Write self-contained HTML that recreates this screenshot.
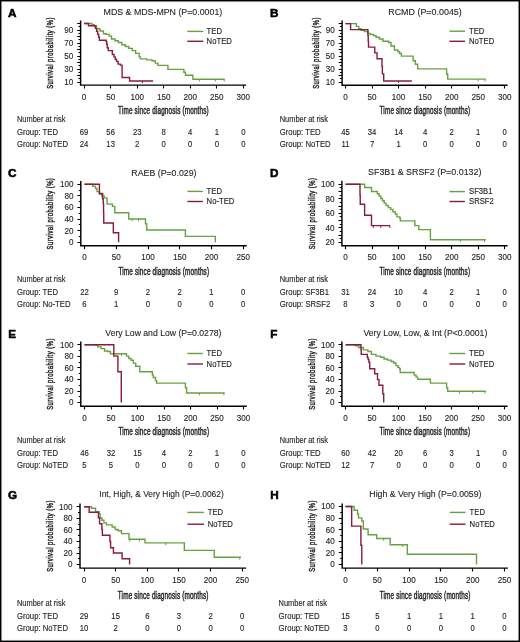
<!DOCTYPE html>
<html><head><meta charset="utf-8"><style>
html,body{margin:0;padding:0;background:#fff;}
body{width:520px;height:642px;overflow:hidden;}
svg{display:block;filter:blur(0.4px);}
svg text{font-family:"Liberation Sans", sans-serif;stroke:#262626;stroke-width:0.12px;}
</style></head><body>
<svg width="520" height="642" viewBox="0 0 520 642">
<rect x="0" y="0" width="520" height="642" fill="#fff"/>
<g>
<text x="8.1" y="16.7" font-size="11.7" font-weight="bold" fill="#000" style="stroke:#000;stroke-width:0.55px">A</text>
<text x="162.9" y="14.7" font-size="9.4" text-anchor="middle" textLength="118.7" lengthAdjust="spacingAndGlyphs" fill="#262626">MDS &amp; MDS-MPN (P=0.0001)</text>
<path d="M80.6 20.5 V85.1 H246.2" fill="none" stroke="#000" stroke-width="1.45"/>
<path d="M77.2 82.5H80.6 M78.4 78.5H80.6 M77.2 75.5H80.6 M78.4 72.5H80.6 M77.2 69.5H80.6 M78.4 65.5H80.6 M77.2 62.5H80.6 M78.4 59.5H80.6 M77.2 56.5H80.6 M78.4 52.5H80.6 M77.2 49.5H80.6 M78.4 46.5H80.6 M77.2 43.5H80.6 M78.4 39.5H80.6 M77.2 36.5H80.6 M78.4 33.5H80.6 M77.2 30.5H80.6 M78.4 26.5H80.6 M77.2 23.5H80.6 M84.5 85.1V88.5 M110.5 85.1V88.5 M137.5 85.1V88.5 M163.5 85.1V88.5 M190.5 85.1V88.5 M216.5 85.1V88.5 M243.5 85.1V88.5" fill="none" stroke="#000" stroke-width="1.1"/>
<text transform="translate(73.2 84.85) scale(1 1.13)" font-size="8.1" text-anchor="end" fill="#262626">10</text>
<text transform="translate(73.2 71.85) scale(1 1.13)" font-size="8.1" text-anchor="end" fill="#262626">30</text>
<text transform="translate(73.2 58.85) scale(1 1.13)" font-size="8.1" text-anchor="end" fill="#262626">50</text>
<text transform="translate(73.2 45.85) scale(1 1.13)" font-size="8.1" text-anchor="end" fill="#262626">70</text>
<text transform="translate(73.2 32.85) scale(1 1.13)" font-size="8.1" text-anchor="end" fill="#262626">90</text>
<text transform="translate(84.1 99.5) scale(1 1.13)" font-size="8.1" text-anchor="middle" fill="#262626">0</text>
<text transform="translate(110.63 99.5) scale(1 1.13)" font-size="8.1" text-anchor="middle" fill="#262626">50</text>
<text transform="translate(137.17 99.5) scale(1 1.13)" font-size="8.1" text-anchor="middle" fill="#262626">100</text>
<text transform="translate(163.7 99.5) scale(1 1.13)" font-size="8.1" text-anchor="middle" fill="#262626">150</text>
<text transform="translate(190.24 99.5) scale(1 1.13)" font-size="8.1" text-anchor="middle" fill="#262626">200</text>
<text transform="translate(216.77 99.5) scale(1 1.13)" font-size="8.1" text-anchor="middle" fill="#262626">250</text>
<text transform="translate(243.31 99.5) scale(1 1.13)" font-size="8.1" text-anchor="middle" fill="#262626">300</text>
<text transform="translate(163.48 114.2) scale(0.64 1)" font-size="10.0" text-anchor="middle" letter-spacing="0.24" fill="#262626" style="stroke-width:0.45px">Time since diagnosis (months)</text>
<text transform="translate(53.2 52.96) rotate(-90) scale(0.64 1)" font-size="9.2" text-anchor="middle" letter-spacing="0.75" fill="#262626" style="stroke-width:0.45px">Survival probability (%)</text>
<path d="M84.1 23.5 H91.9 V24.6 H94.18 V25.77 H96.52 V28.7 H100.02 V30.98 H103.47 V33.77 H106.28 V34.42 H109.2 V36.11 H111.48 V38.97 H114.99 V40.79 H118.38 V42.48 H121.89 V44.82 H125.39 V46.51 H128.78 V48.33 H132.29 V50.61 H135.68 V53.4 H139.19 V56.91 H140.35 V58.92 H146.72 V59.9 H152.03 V60.81 H155.21 V63.15 H157.87 V65.42 H167.95 V69.33 H183.87 V72.25 H185.46 V75.31 H192.89 V79.2 H224.74" fill="none" stroke="#66a242" stroke-width="1.4"/>
<path d="M84.1 23.5 H88.5 V25.77 H95.4 V28.38 H96.57 V31.3 H97.63 V34.35 H98.69 V37.15 H99.38 V40.2 H106.28 V41.7 H106.71 V44.3 H107.24 V47.68 H108.25 V50.61 H112.33 V54.57 H114.03 V56.91 H115.2 V59.25 H116.47 V61.39 H118.06 V64.12 H120.4 V65.1 H122.1 V77.45 H129.58 V81.03 H153.09" fill="none" stroke="#8a1a3e" stroke-width="1.4"/>
<path d="M199.58 79.2V81.5 M215.4 79.2V81.5 M224.2 79.2V81.5" stroke="#66a242" stroke-width="1"/>
<path d="M142.48 81.03V83.33" stroke="#8a1a3e" stroke-width="1"/>
<path d="M187.3 31.4H203.3" stroke="#66a242" stroke-width="1.4"/>
<path d="M187.3 41.3H203.3" stroke="#8a1a3e" stroke-width="1.4"/>
<text transform="translate(206.6 34.15) scale(1 1.17)" font-size="7.7" fill="#262626">TED</text>
<text transform="translate(206.6 44.05) scale(1 1.17)" font-size="7.7" fill="#262626">NoTED</text>
<text transform="translate(17 121.5) scale(1 1.15)" font-size="7.45" fill="#262626">Number at risk</text>
<text transform="translate(17 134.6) scale(1 1.11)" font-size="7.72" fill="#262626">Group: TED</text>
<text transform="translate(84.1 134.6) scale(1 1.13)" font-size="7.7" text-anchor="middle" fill="#262626">69</text>
<text transform="translate(110.63 134.6) scale(1 1.13)" font-size="7.7" text-anchor="middle" fill="#262626">56</text>
<text transform="translate(137.17 134.6) scale(1 1.13)" font-size="7.7" text-anchor="middle" fill="#262626">23</text>
<text transform="translate(163.7 134.6) scale(1 1.13)" font-size="7.7" text-anchor="middle" fill="#262626">8</text>
<text transform="translate(190.24 134.6) scale(1 1.13)" font-size="7.7" text-anchor="middle" fill="#262626">4</text>
<text transform="translate(216.77 134.6) scale(1 1.13)" font-size="7.7" text-anchor="middle" fill="#262626">1</text>
<text transform="translate(243.31 134.6) scale(1 1.13)" font-size="7.7" text-anchor="middle" fill="#262626">0</text>
<text transform="translate(17 146.9) scale(1 1.11)" font-size="7.72" fill="#262626">Group: NoTED</text>
<text transform="translate(84.1 146.9) scale(1 1.13)" font-size="7.7" text-anchor="middle" fill="#262626">24</text>
<text transform="translate(110.63 146.9) scale(1 1.13)" font-size="7.7" text-anchor="middle" fill="#262626">13</text>
<text transform="translate(137.17 146.9) scale(1 1.13)" font-size="7.7" text-anchor="middle" fill="#262626">2</text>
<text transform="translate(163.7 146.9) scale(1 1.13)" font-size="7.7" text-anchor="middle" fill="#262626">0</text>
<text transform="translate(190.24 146.9) scale(1 1.13)" font-size="7.7" text-anchor="middle" fill="#262626">0</text>
<text transform="translate(216.77 146.9) scale(1 1.13)" font-size="7.7" text-anchor="middle" fill="#262626">0</text>
<text transform="translate(243.31 146.9) scale(1 1.13)" font-size="7.7" text-anchor="middle" fill="#262626">0</text>
</g>
<g>
<text x="270.1" y="16.6" font-size="11.7" font-weight="bold" fill="#000" style="stroke:#000;stroke-width:0.55px">B</text>
<text x="425" y="14.8" font-size="9.4" text-anchor="middle" textLength="73.5" lengthAdjust="spacingAndGlyphs" fill="#262626">RCMD (P=0.0045)</text>
<path d="M342.1 20.5 V85.2 H507.6" fill="none" stroke="#000" stroke-width="1.45"/>
<path d="M338.7 82.5H342.1 M339.9 78.5H342.1 M338.7 75.5H342.1 M339.9 72.5H342.1 M338.7 69.5H342.1 M339.9 65.5H342.1 M338.7 62.5H342.1 M339.9 59.5H342.1 M338.7 56.5H342.1 M339.9 52.5H342.1 M338.7 49.5H342.1 M339.9 46.5H342.1 M338.7 43.5H342.1 M339.9 39.5H342.1 M338.7 36.5H342.1 M339.9 33.5H342.1 M338.7 30.5H342.1 M339.9 26.5H342.1 M338.7 23.5H342.1 M345.5 85.2V88.6 M372.5 85.2V88.6 M398.5 85.2V88.6 M425.5 85.2V88.6 M451.5 85.2V88.6 M478.5 85.2V88.6 M504.5 85.2V88.6" fill="none" stroke="#000" stroke-width="1.1"/>
<text transform="translate(334.7 84.95) scale(1 1.13)" font-size="8.1" text-anchor="end" fill="#262626">10</text>
<text transform="translate(334.7 71.95) scale(1 1.13)" font-size="8.1" text-anchor="end" fill="#262626">30</text>
<text transform="translate(334.7 58.95) scale(1 1.13)" font-size="8.1" text-anchor="end" fill="#262626">50</text>
<text transform="translate(334.7 45.95) scale(1 1.13)" font-size="8.1" text-anchor="end" fill="#262626">70</text>
<text transform="translate(334.7 32.95) scale(1 1.13)" font-size="8.1" text-anchor="end" fill="#262626">90</text>
<text transform="translate(345.5 99.5) scale(1 1.13)" font-size="8.1" text-anchor="middle" fill="#262626">0</text>
<text transform="translate(372.03 99.5) scale(1 1.13)" font-size="8.1" text-anchor="middle" fill="#262626">50</text>
<text transform="translate(398.57 99.5) scale(1 1.13)" font-size="8.1" text-anchor="middle" fill="#262626">100</text>
<text transform="translate(425.11 99.5) scale(1 1.13)" font-size="8.1" text-anchor="middle" fill="#262626">150</text>
<text transform="translate(451.64 99.5) scale(1 1.13)" font-size="8.1" text-anchor="middle" fill="#262626">200</text>
<text transform="translate(478.17 99.5) scale(1 1.13)" font-size="8.1" text-anchor="middle" fill="#262626">250</text>
<text transform="translate(504.71 99.5) scale(1 1.13)" font-size="8.1" text-anchor="middle" fill="#262626">300</text>
<text transform="translate(424.93 114.3) scale(0.64 1)" font-size="10.0" text-anchor="middle" letter-spacing="0.24" fill="#262626" style="stroke-width:0.45px">Time since diagnosis (months)</text>
<text transform="translate(319.1 53.01) rotate(-90) scale(0.64 1)" font-size="9.2" text-anchor="middle" letter-spacing="0.75" fill="#262626" style="stroke-width:0.45px">Survival probability (%)</text>
<path d="M345.5 23.6 H356.38 V26.33 H358.71 V28.73 H361 V30.42 H364.5 V31.53 H367.9 V33.35 H370.18 V34.45 H373.68 V35.62 H376.02 V37.31 H379.41 V39 H382.91 V41.28 H388.7 V42.45 H390.98 V46.02 H394.38 V49.99 H397.88 V51.68 H399.63 V53.5 H401.38 V56.1 H413.11 V60.78 H415.39 V64.22 H417.68 V68.91 H446.6 V73.97 H447.71 V79.11 H485.82" fill="none" stroke="#66a242" stroke-width="1.4"/>
<path d="M345.5 23.6 H350.59 V29.64 H367.9 V35.43 H368.21 V41.34 H368.53 V47.13 H374.79 V52.85 H377.08 V58.7 H381.96 V66.5 H382.38 V73.91 H383.71 V80.93 H411.84" fill="none" stroke="#8a1a3e" stroke-width="1.4"/>
<path d="M478.17 79.11V81.41 M485.07 79.11V81.41" stroke="#66a242" stroke-width="1"/>
<path d="M398.57 80.93V83.23" stroke="#8a1a3e" stroke-width="1"/>
<path d="M449.4 31.2H465" stroke="#66a242" stroke-width="1.4"/>
<path d="M449.4 41.3H465" stroke="#8a1a3e" stroke-width="1.4"/>
<text transform="translate(469 33.95) scale(1 1.17)" font-size="7.7" fill="#262626">TED</text>
<text transform="translate(469 44.05) scale(1 1.17)" font-size="7.7" fill="#262626">NoTED</text>
<text transform="translate(279.7 121.5) scale(1 1.15)" font-size="7.45" fill="#262626">Number at risk</text>
<text transform="translate(279.7 134.6) scale(1 1.11)" font-size="7.72" fill="#262626">Group: TED</text>
<text transform="translate(345.5 134.6) scale(1 1.13)" font-size="7.7" text-anchor="middle" fill="#262626">45</text>
<text transform="translate(372.03 134.6) scale(1 1.13)" font-size="7.7" text-anchor="middle" fill="#262626">34</text>
<text transform="translate(398.57 134.6) scale(1 1.13)" font-size="7.7" text-anchor="middle" fill="#262626">14</text>
<text transform="translate(425.11 134.6) scale(1 1.13)" font-size="7.7" text-anchor="middle" fill="#262626">4</text>
<text transform="translate(451.64 134.6) scale(1 1.13)" font-size="7.7" text-anchor="middle" fill="#262626">2</text>
<text transform="translate(478.17 134.6) scale(1 1.13)" font-size="7.7" text-anchor="middle" fill="#262626">1</text>
<text transform="translate(504.71 134.6) scale(1 1.13)" font-size="7.7" text-anchor="middle" fill="#262626">0</text>
<text transform="translate(279.7 146.9) scale(1 1.11)" font-size="7.72" fill="#262626">Group: NoTED</text>
<text transform="translate(345.5 146.9) scale(1 1.13)" font-size="7.7" text-anchor="middle" fill="#262626">11</text>
<text transform="translate(372.03 146.9) scale(1 1.13)" font-size="7.7" text-anchor="middle" fill="#262626">7</text>
<text transform="translate(398.57 146.9) scale(1 1.13)" font-size="7.7" text-anchor="middle" fill="#262626">1</text>
<text transform="translate(425.11 146.9) scale(1 1.13)" font-size="7.7" text-anchor="middle" fill="#262626">0</text>
<text transform="translate(451.64 146.9) scale(1 1.13)" font-size="7.7" text-anchor="middle" fill="#262626">0</text>
<text transform="translate(478.17 146.9) scale(1 1.13)" font-size="7.7" text-anchor="middle" fill="#262626">0</text>
<text transform="translate(504.71 146.9) scale(1 1.13)" font-size="7.7" text-anchor="middle" fill="#262626">0</text>
</g>
<g>
<text x="8" y="176.9" font-size="11.7" font-weight="bold" fill="#000" style="stroke:#000;stroke-width:0.55px">C</text>
<text x="163.95" y="175.5" font-size="9.4" text-anchor="middle" textLength="65.2" lengthAdjust="spacingAndGlyphs" fill="#262626">RAEB (P=0.029)</text>
<path d="M80.8 181 V245.8 H246.7" fill="none" stroke="#000" stroke-width="1.45"/>
<path d="M77.4 242.5H80.8 M78.8 236.5H80.8 M77.4 230.5H80.8 M78.8 224.5H80.8 M77.4 219.5H80.8 M78.8 213.5H80.8 M77.4 207.5H80.8 M78.8 201.5H80.8 M77.4 195.5H80.8 M78.8 190.5H80.8 M77.4 184.5H80.8 M84.5 245.8V249.2 M116.5 245.8V249.2 M148.5 245.8V249.2 M179.5 245.8V249.2 M211.5 245.8V249.2 M243.5 245.8V249.2" fill="none" stroke="#000" stroke-width="1.1"/>
<text transform="translate(73.4 245.15) scale(1 1.13)" font-size="8.1" text-anchor="end" fill="#262626">0</text>
<text transform="translate(73.4 233.55) scale(1 1.13)" font-size="8.1" text-anchor="end" fill="#262626">20</text>
<text transform="translate(73.4 221.95) scale(1 1.13)" font-size="8.1" text-anchor="end" fill="#262626">40</text>
<text transform="translate(73.4 210.35) scale(1 1.13)" font-size="8.1" text-anchor="end" fill="#262626">60</text>
<text transform="translate(73.4 198.75) scale(1 1.13)" font-size="8.1" text-anchor="end" fill="#262626">80</text>
<text transform="translate(73.4 187.15) scale(1 1.13)" font-size="8.1" text-anchor="end" fill="#262626">100</text>
<text transform="translate(84.5 260) scale(1 1.13)" font-size="8.1" text-anchor="middle" fill="#262626">0</text>
<text transform="translate(116.25 260) scale(1 1.13)" font-size="8.1" text-anchor="middle" fill="#262626">50</text>
<text transform="translate(148 260) scale(1 1.13)" font-size="8.1" text-anchor="middle" fill="#262626">100</text>
<text transform="translate(179.75 260) scale(1 1.13)" font-size="8.1" text-anchor="middle" fill="#262626">150</text>
<text transform="translate(211.5 260) scale(1 1.13)" font-size="8.1" text-anchor="middle" fill="#262626">200</text>
<text transform="translate(243.25 260) scale(1 1.13)" font-size="8.1" text-anchor="middle" fill="#262626">250</text>
<text transform="translate(163.83 274.6) scale(0.64 1)" font-size="10.0" text-anchor="middle" letter-spacing="0.24" fill="#262626" style="stroke-width:0.45px">Time since diagnosis (months)</text>
<text transform="translate(53.2 213.56) rotate(-90) scale(0.64 1)" font-size="9.2" text-anchor="middle" letter-spacing="0.75" fill="#262626" style="stroke-width:0.45px">Survival probability (%)</text>
<path d="M84.5 184.3 H92.69 V186.33 H95.49 V188.36 H97.01 V191.61 H99.42 V193.99 H101.64 V195.9 H104.19 V197.87 H107.11 V204.08 H112.44 V206.34 H114.79 V212.78 H128.7 V218.98 H145.46 V223.74 H146.73 V230 H185.4 V236.33 H215.31 V242.13 H215.31" fill="none" stroke="#66a242" stroke-width="1.4"/>
<path d="M84.5 184.3 H99.42 V193.52 H102.6 V198.8 H103.23 V203.61 H103.55 V213.3 H103.74 V222.93 H113.33 V232.79 H118.6 V242.13 H118.6" fill="none" stroke="#8a1a3e" stroke-width="1.4"/>
<path d="M132.12 218.98V221.28 M138.47 218.98V221.28" stroke="#66a242" stroke-width="1"/>
<path d="M187.4 191.4H202.9" stroke="#66a242" stroke-width="1.4"/>
<path d="M187.4 201.5H202.9" stroke="#8a1a3e" stroke-width="1.4"/>
<text transform="translate(206.6 194.15) scale(1 1.17)" font-size="7.7" fill="#262626">TED</text>
<text transform="translate(206.6 204.25) scale(1 1.17)" font-size="7.7" fill="#262626">No-TED</text>
<text transform="translate(17 281.9) scale(1 1.15)" font-size="7.45" fill="#262626">Number at risk</text>
<text transform="translate(17 294.6) scale(1 1.11)" font-size="7.72" fill="#262626">Group: TED</text>
<text transform="translate(84.5 294.6) scale(1 1.13)" font-size="7.7" text-anchor="middle" fill="#262626">22</text>
<text transform="translate(116.25 294.6) scale(1 1.13)" font-size="7.7" text-anchor="middle" fill="#262626">9</text>
<text transform="translate(148 294.6) scale(1 1.13)" font-size="7.7" text-anchor="middle" fill="#262626">2</text>
<text transform="translate(179.75 294.6) scale(1 1.13)" font-size="7.7" text-anchor="middle" fill="#262626">2</text>
<text transform="translate(211.5 294.6) scale(1 1.13)" font-size="7.7" text-anchor="middle" fill="#262626">1</text>
<text transform="translate(243.25 294.6) scale(1 1.13)" font-size="7.7" text-anchor="middle" fill="#262626">0</text>
<text transform="translate(17 306.9) scale(1 1.11)" font-size="7.72" fill="#262626">Group: No-TED</text>
<text transform="translate(84.5 306.9) scale(1 1.13)" font-size="7.7" text-anchor="middle" fill="#262626">6</text>
<text transform="translate(116.25 306.9) scale(1 1.13)" font-size="7.7" text-anchor="middle" fill="#262626">1</text>
<text transform="translate(148 306.9) scale(1 1.13)" font-size="7.7" text-anchor="middle" fill="#262626">0</text>
<text transform="translate(179.75 306.9) scale(1 1.13)" font-size="7.7" text-anchor="middle" fill="#262626">0</text>
<text transform="translate(211.5 306.9) scale(1 1.13)" font-size="7.7" text-anchor="middle" fill="#262626">0</text>
<text transform="translate(243.25 306.9) scale(1 1.13)" font-size="7.7" text-anchor="middle" fill="#262626">0</text>
</g>
<g>
<text x="270.1" y="176.9" font-size="11.7" font-weight="bold" fill="#000" style="stroke:#000;stroke-width:0.55px">D</text>
<text x="424.75" y="175.2" font-size="9.4" text-anchor="middle" textLength="113.4" lengthAdjust="spacingAndGlyphs" fill="#262626">SF3B1 &amp; SRSF2 (P=0.0132)</text>
<path d="M341.9 180.8 V245.8 H507.5" fill="none" stroke="#000" stroke-width="1.45"/>
<path d="M338.5 242.5H341.9 M339.7 238.5H341.9 M338.5 235.5H341.9 M339.7 231.5H341.9 M338.5 227.5H341.9 M339.7 224.5H341.9 M338.5 220.5H341.9 M339.7 216.5H341.9 M338.5 213.5H341.9 M339.7 209.5H341.9 M338.5 206.5H341.9 M339.7 202.5H341.9 M338.5 198.5H341.9 M339.7 195.5H341.9 M338.5 191.5H341.9 M339.7 187.5H341.9 M338.5 184.5H341.9 M345.5 245.8V249.2 M372.5 245.8V249.2 M398.5 245.8V249.2 M425.5 245.8V249.2 M451.5 245.8V249.2 M478.5 245.8V249.2 M504.5 245.8V249.2" fill="none" stroke="#000" stroke-width="1.1"/>
<text transform="translate(334.5 245.15) scale(1 1.13)" font-size="8.1" text-anchor="end" fill="#262626">20</text>
<text transform="translate(334.5 230.63) scale(1 1.13)" font-size="8.1" text-anchor="end" fill="#262626">40</text>
<text transform="translate(334.5 216.11) scale(1 1.13)" font-size="8.1" text-anchor="end" fill="#262626">60</text>
<text transform="translate(334.5 201.59) scale(1 1.13)" font-size="8.1" text-anchor="end" fill="#262626">80</text>
<text transform="translate(334.5 187.07) scale(1 1.13)" font-size="8.1" text-anchor="end" fill="#262626">100</text>
<text transform="translate(345.5 260) scale(1 1.13)" font-size="8.1" text-anchor="middle" fill="#262626">0</text>
<text transform="translate(372.03 260) scale(1 1.13)" font-size="8.1" text-anchor="middle" fill="#262626">50</text>
<text transform="translate(398.57 260) scale(1 1.13)" font-size="8.1" text-anchor="middle" fill="#262626">100</text>
<text transform="translate(425.11 260) scale(1 1.13)" font-size="8.1" text-anchor="middle" fill="#262626">150</text>
<text transform="translate(451.64 260) scale(1 1.13)" font-size="8.1" text-anchor="middle" fill="#262626">200</text>
<text transform="translate(478.17 260) scale(1 1.13)" font-size="8.1" text-anchor="middle" fill="#262626">250</text>
<text transform="translate(504.71 260) scale(1 1.13)" font-size="8.1" text-anchor="middle" fill="#262626">300</text>
<text transform="translate(424.78 274.7) scale(0.64 1)" font-size="10.0" text-anchor="middle" letter-spacing="0.24" fill="#262626" style="stroke-width:0.45px">Time since diagnosis (months)</text>
<text transform="translate(315.1 213.46) rotate(-90) scale(0.64 1)" font-size="9.2" text-anchor="middle" letter-spacing="0.75" fill="#262626" style="stroke-width:0.45px">Survival probability (%)</text>
<path d="M345.5 184.22 H364.61 V187.49 H371.5 V191.48 H377.29 V193.8 H378.99 V196.13 H380.79 V198.52 H382.49 V200.77 H384.19 V203.1 H385.99 V205.42 H388.27 V207.67 H390.61 V209.41 H392.89 V211.74 H395.17 V213.99 H396.92 V216.89 H399.79 V218.12 H400.37 V220.88 H414.81 V225.6 H418.79 V229.59 H430.41 V239.69 H485.82" fill="none" stroke="#66a242" stroke-width="1.4"/>
<path d="M345.5 184.22 H359.99 V194.96 H360.25 V204.19 H364.61 V215.22 H371.5 V225.6 H390.08" fill="none" stroke="#8a1a3e" stroke-width="1.4"/>
<path d="M460.4 239.69V241.99 M484.54 239.69V241.99" stroke="#66a242" stroke-width="1"/>
<path d="M373.31 225.6V227.9 M380.79 225.6V227.9 M389.81 225.6V227.9" stroke="#8a1a3e" stroke-width="1"/>
<path d="M449.4 191.6H464.9" stroke="#66a242" stroke-width="1.4"/>
<path d="M449.4 201.5H464.9" stroke="#8a1a3e" stroke-width="1.4"/>
<text transform="translate(469 194.35) scale(1 1.17)" font-size="7.7" fill="#262626">SF3B1</text>
<text transform="translate(469 204.25) scale(1 1.17)" font-size="7.7" fill="#262626">SRSF2</text>
<text transform="translate(279.7 281.9) scale(1 1.15)" font-size="7.45" fill="#262626">Number at risk</text>
<text transform="translate(279.7 294.6) scale(1 1.11)" font-size="7.72" fill="#262626">Group: SF3B1</text>
<text transform="translate(345.5 294.6) scale(1 1.13)" font-size="7.7" text-anchor="middle" fill="#262626">31</text>
<text transform="translate(372.03 294.6) scale(1 1.13)" font-size="7.7" text-anchor="middle" fill="#262626">24</text>
<text transform="translate(398.57 294.6) scale(1 1.13)" font-size="7.7" text-anchor="middle" fill="#262626">10</text>
<text transform="translate(425.11 294.6) scale(1 1.13)" font-size="7.7" text-anchor="middle" fill="#262626">4</text>
<text transform="translate(451.64 294.6) scale(1 1.13)" font-size="7.7" text-anchor="middle" fill="#262626">2</text>
<text transform="translate(478.17 294.6) scale(1 1.13)" font-size="7.7" text-anchor="middle" fill="#262626">1</text>
<text transform="translate(504.71 294.6) scale(1 1.13)" font-size="7.7" text-anchor="middle" fill="#262626">0</text>
<text transform="translate(279.7 306.9) scale(1 1.11)" font-size="7.72" fill="#262626">Group: SRSF2</text>
<text transform="translate(345.5 306.9) scale(1 1.13)" font-size="7.7" text-anchor="middle" fill="#262626">8</text>
<text transform="translate(372.03 306.9) scale(1 1.13)" font-size="7.7" text-anchor="middle" fill="#262626">3</text>
<text transform="translate(398.57 306.9) scale(1 1.13)" font-size="7.7" text-anchor="middle" fill="#262626">0</text>
<text transform="translate(425.11 306.9) scale(1 1.13)" font-size="7.7" text-anchor="middle" fill="#262626">0</text>
<text transform="translate(451.64 306.9) scale(1 1.13)" font-size="7.7" text-anchor="middle" fill="#262626">0</text>
<text transform="translate(478.17 306.9) scale(1 1.13)" font-size="7.7" text-anchor="middle" fill="#262626">0</text>
<text transform="translate(504.71 306.9) scale(1 1.13)" font-size="7.7" text-anchor="middle" fill="#262626">0</text>
</g>
<g>
<text x="8.3" y="337.5" font-size="11.7" font-weight="bold" fill="#000" style="stroke:#000;stroke-width:0.55px">E</text>
<text x="163.4" y="335.9" font-size="9.4" text-anchor="middle" textLength="116.1" lengthAdjust="spacingAndGlyphs" fill="#262626">Very Low and Low (P=0.0278)</text>
<path d="M80.8 341.5 V406.2 H246.7" fill="none" stroke="#000" stroke-width="1.45"/>
<path d="M77.4 402.5H80.8 M78.8 396.5H80.8 M77.4 391.5H80.8 M78.8 385.5H80.8 M77.4 379.5H80.8 M78.8 373.5H80.8 M77.4 367.5H80.8 M78.8 362.5H80.8 M77.4 356.5H80.8 M78.8 350.5H80.8 M77.4 344.5H80.8 M84.5 406.2V409.6 M111.5 406.2V409.6 M137.5 406.2V409.6 M164.5 406.2V409.6 M190.5 406.2V409.6 M217.5 406.2V409.6 M243.5 406.2V409.6" fill="none" stroke="#000" stroke-width="1.1"/>
<text transform="translate(73.4 405.45) scale(1 1.13)" font-size="8.1" text-anchor="end" fill="#262626">0</text>
<text transform="translate(73.4 393.89) scale(1 1.13)" font-size="8.1" text-anchor="end" fill="#262626">20</text>
<text transform="translate(73.4 382.33) scale(1 1.13)" font-size="8.1" text-anchor="end" fill="#262626">40</text>
<text transform="translate(73.4 370.77) scale(1 1.13)" font-size="8.1" text-anchor="end" fill="#262626">60</text>
<text transform="translate(73.4 359.21) scale(1 1.13)" font-size="8.1" text-anchor="end" fill="#262626">80</text>
<text transform="translate(73.4 347.65) scale(1 1.13)" font-size="8.1" text-anchor="end" fill="#262626">100</text>
<text transform="translate(84.5 420.5) scale(1 1.13)" font-size="8.1" text-anchor="middle" fill="#262626">0</text>
<text transform="translate(111 420.5) scale(1 1.13)" font-size="8.1" text-anchor="middle" fill="#262626">50</text>
<text transform="translate(137.5 420.5) scale(1 1.13)" font-size="8.1" text-anchor="middle" fill="#262626">100</text>
<text transform="translate(164 420.5) scale(1 1.13)" font-size="8.1" text-anchor="middle" fill="#262626">150</text>
<text transform="translate(190.5 420.5) scale(1 1.13)" font-size="8.1" text-anchor="middle" fill="#262626">200</text>
<text transform="translate(217 420.5) scale(1 1.13)" font-size="8.1" text-anchor="middle" fill="#262626">250</text>
<text transform="translate(243.5 420.5) scale(1 1.13)" font-size="8.1" text-anchor="middle" fill="#262626">300</text>
<text transform="translate(163.83 435.4) scale(0.64 1)" font-size="10.0" text-anchor="middle" letter-spacing="0.24" fill="#262626" style="stroke-width:0.45px">Time since diagnosis (months)</text>
<text transform="translate(53 374.01) rotate(-90) scale(0.64 1)" font-size="9.2" text-anchor="middle" letter-spacing="0.75" fill="#262626" style="stroke-width:0.45px">Survival probability (%)</text>
<path d="M84.5 344.8 H95.42 V345.2 H97.7 V346.88 H101.09 V348.67 H104.59 V350.98 H108.09 V351.5 H110.42 V353.82 H126.48 V356.13 H128.81 V358.5 H131.09 V360.23 H133.42 V363.12 H135.7 V366.19 H139.78 V371.68 H152.34 V374.86 H153.29 V377.51 H155.52 V380.64 H156.58 V383.12 H185.41 V387.69 H186.58 V393.01 H224.69" fill="none" stroke="#66a242" stroke-width="1.4"/>
<path d="M84.5 344.8 H113.81 V356.13 H117.89 V371.68 H121.28 V402.43 H121.28" fill="none" stroke="#8a1a3e" stroke-width="1.4"/>
<path d="M116.3 353.82V356.12 M121.6 353.82V356.12 M199.51 393.01V395.31 M223.89 393.01V395.31" stroke="#66a242" stroke-width="1"/>
<path d="M187.4 353.5H202.9" stroke="#66a242" stroke-width="1.4"/>
<path d="M187.4 364H202.9" stroke="#8a1a3e" stroke-width="1.4"/>
<text transform="translate(206.6 356.25) scale(1 1.17)" font-size="7.7" fill="#262626">TED</text>
<text transform="translate(206.6 366.75) scale(1 1.17)" font-size="7.7" fill="#262626">NoTED</text>
<text transform="translate(17 443.3) scale(1 1.15)" font-size="7.45" fill="#262626">Number at risk</text>
<text transform="translate(17 455.6) scale(1 1.11)" font-size="7.72" fill="#262626">Group: TED</text>
<text transform="translate(84.5 455.6) scale(1 1.13)" font-size="7.7" text-anchor="middle" fill="#262626">46</text>
<text transform="translate(111 455.6) scale(1 1.13)" font-size="7.7" text-anchor="middle" fill="#262626">32</text>
<text transform="translate(137.5 455.6) scale(1 1.13)" font-size="7.7" text-anchor="middle" fill="#262626">15</text>
<text transform="translate(164 455.6) scale(1 1.13)" font-size="7.7" text-anchor="middle" fill="#262626">4</text>
<text transform="translate(190.5 455.6) scale(1 1.13)" font-size="7.7" text-anchor="middle" fill="#262626">2</text>
<text transform="translate(217 455.6) scale(1 1.13)" font-size="7.7" text-anchor="middle" fill="#262626">1</text>
<text transform="translate(243.5 455.6) scale(1 1.13)" font-size="7.7" text-anchor="middle" fill="#262626">0</text>
<text transform="translate(17 468.1) scale(1 1.11)" font-size="7.72" fill="#262626">Group: NoTED</text>
<text transform="translate(84.5 468.1) scale(1 1.13)" font-size="7.7" text-anchor="middle" fill="#262626">5</text>
<text transform="translate(111 468.1) scale(1 1.13)" font-size="7.7" text-anchor="middle" fill="#262626">5</text>
<text transform="translate(137.5 468.1) scale(1 1.13)" font-size="7.7" text-anchor="middle" fill="#262626">0</text>
<text transform="translate(164 468.1) scale(1 1.13)" font-size="7.7" text-anchor="middle" fill="#262626">0</text>
<text transform="translate(190.5 468.1) scale(1 1.13)" font-size="7.7" text-anchor="middle" fill="#262626">0</text>
<text transform="translate(217 468.1) scale(1 1.13)" font-size="7.7" text-anchor="middle" fill="#262626">0</text>
<text transform="translate(243.5 468.1) scale(1 1.13)" font-size="7.7" text-anchor="middle" fill="#262626">0</text>
</g>
<g>
<text x="270.3" y="337.5" font-size="11.7" font-weight="bold" fill="#000" style="stroke:#000;stroke-width:0.55px">F</text>
<text x="425.4" y="335.9" font-size="9.4" text-anchor="middle" textLength="123.9" lengthAdjust="spacingAndGlyphs" fill="#262626">Very Low, Low, &amp; Int (P&lt;0.0001)</text>
<path d="M341.9 341.5 V406.2 H507.6" fill="none" stroke="#000" stroke-width="1.45"/>
<path d="M338.5 402.5H341.9 M339.9 396.5H341.9 M338.5 391.5H341.9 M339.9 385.5H341.9 M338.5 379.5H341.9 M339.9 373.5H341.9 M338.5 367.5H341.9 M339.9 362.5H341.9 M338.5 356.5H341.9 M339.9 350.5H341.9 M338.5 344.5H341.9 M345.5 406.2V409.6 M372.5 406.2V409.6 M398.5 406.2V409.6 M425.5 406.2V409.6 M451.5 406.2V409.6 M478.5 406.2V409.6 M504.5 406.2V409.6" fill="none" stroke="#000" stroke-width="1.1"/>
<text transform="translate(334.5 405.45) scale(1 1.13)" font-size="8.1" text-anchor="end" fill="#262626">0</text>
<text transform="translate(334.5 393.89) scale(1 1.13)" font-size="8.1" text-anchor="end" fill="#262626">20</text>
<text transform="translate(334.5 382.33) scale(1 1.13)" font-size="8.1" text-anchor="end" fill="#262626">40</text>
<text transform="translate(334.5 370.77) scale(1 1.13)" font-size="8.1" text-anchor="end" fill="#262626">60</text>
<text transform="translate(334.5 359.21) scale(1 1.13)" font-size="8.1" text-anchor="end" fill="#262626">80</text>
<text transform="translate(334.5 347.65) scale(1 1.13)" font-size="8.1" text-anchor="end" fill="#262626">100</text>
<text transform="translate(345.6 420.5) scale(1 1.13)" font-size="8.1" text-anchor="middle" fill="#262626">0</text>
<text transform="translate(372.1 420.5) scale(1 1.13)" font-size="8.1" text-anchor="middle" fill="#262626">50</text>
<text transform="translate(398.6 420.5) scale(1 1.13)" font-size="8.1" text-anchor="middle" fill="#262626">100</text>
<text transform="translate(425.1 420.5) scale(1 1.13)" font-size="8.1" text-anchor="middle" fill="#262626">150</text>
<text transform="translate(451.6 420.5) scale(1 1.13)" font-size="8.1" text-anchor="middle" fill="#262626">200</text>
<text transform="translate(478.1 420.5) scale(1 1.13)" font-size="8.1" text-anchor="middle" fill="#262626">250</text>
<text transform="translate(504.6 420.5) scale(1 1.13)" font-size="8.1" text-anchor="middle" fill="#262626">300</text>
<text transform="translate(424.83 435.4) scale(0.64 1)" font-size="10.0" text-anchor="middle" letter-spacing="0.24" fill="#262626" style="stroke-width:0.45px">Time since diagnosis (months)</text>
<text transform="translate(314.8 374.01) rotate(-90) scale(0.64 1)" font-size="9.2" text-anchor="middle" letter-spacing="0.75" fill="#262626" style="stroke-width:0.45px">Survival probability (%)</text>
<path d="M345.6 344.8 H355.19 V345.78 H358.69 V347.52 H363.3 V349.83 H367.91 V351.5 H371.41 V354.39 H376.02 V356.13 H380.58 V357.28 H384.08 V359.02 H387.47 V360.12 H391.02 V361.56 H393.72 V363.01 H395.95 V365.61 H397.91 V367.34 H399.5 V368.79 H400.19 V372.54 H414.18 V375.15 H416.09 V377.17 H417.68 V379.31 H430.4 V383.12 H446.62 V387.69 H447.68 V391.21 H485.79" fill="none" stroke="#66a242" stroke-width="1.4"/>
<path d="M345.6 344.8 H360.97 V349.6 H361.24 V354.39 H367.33 V357.52 H368.12 V359.6 H368.92 V362.2 H369.72 V368.73 H374.7 V373.7 H377.51 V379.6 H378.99 V385.2 H382.81 V393.7 H383.71 V402.43 H383.71" fill="none" stroke="#8a1a3e" stroke-width="1.4"/>
<path d="M459.55 391.21V393.51 M472.8 391.21V393.51 M484.99 391.21V393.51" stroke="#66a242" stroke-width="1"/>
<path d="M449.4 353.5H465.3" stroke="#66a242" stroke-width="1.4"/>
<path d="M449.4 364H465.3" stroke="#8a1a3e" stroke-width="1.4"/>
<text transform="translate(469 356.25) scale(1 1.17)" font-size="7.7" fill="#262626">TED</text>
<text transform="translate(469 366.75) scale(1 1.17)" font-size="7.7" fill="#262626">NoTED</text>
<text transform="translate(279.7 443.3) scale(1 1.15)" font-size="7.45" fill="#262626">Number at risk</text>
<text transform="translate(279.7 455.6) scale(1 1.11)" font-size="7.72" fill="#262626">Group: TED</text>
<text transform="translate(345.6 455.6) scale(1 1.13)" font-size="7.7" text-anchor="middle" fill="#262626">60</text>
<text transform="translate(372.1 455.6) scale(1 1.13)" font-size="7.7" text-anchor="middle" fill="#262626">42</text>
<text transform="translate(398.6 455.6) scale(1 1.13)" font-size="7.7" text-anchor="middle" fill="#262626">20</text>
<text transform="translate(425.1 455.6) scale(1 1.13)" font-size="7.7" text-anchor="middle" fill="#262626">6</text>
<text transform="translate(451.6 455.6) scale(1 1.13)" font-size="7.7" text-anchor="middle" fill="#262626">3</text>
<text transform="translate(478.1 455.6) scale(1 1.13)" font-size="7.7" text-anchor="middle" fill="#262626">1</text>
<text transform="translate(504.6 455.6) scale(1 1.13)" font-size="7.7" text-anchor="middle" fill="#262626">0</text>
<text transform="translate(279.7 468.1) scale(1 1.11)" font-size="7.72" fill="#262626">Group: NoTED</text>
<text transform="translate(345.6 468.1) scale(1 1.13)" font-size="7.7" text-anchor="middle" fill="#262626">12</text>
<text transform="translate(372.1 468.1) scale(1 1.13)" font-size="7.7" text-anchor="middle" fill="#262626">7</text>
<text transform="translate(398.6 468.1) scale(1 1.13)" font-size="7.7" text-anchor="middle" fill="#262626">0</text>
<text transform="translate(425.1 468.1) scale(1 1.13)" font-size="7.7" text-anchor="middle" fill="#262626">0</text>
<text transform="translate(451.6 468.1) scale(1 1.13)" font-size="7.7" text-anchor="middle" fill="#262626">0</text>
<text transform="translate(478.1 468.1) scale(1 1.13)" font-size="7.7" text-anchor="middle" fill="#262626">0</text>
<text transform="translate(504.6 468.1) scale(1 1.13)" font-size="7.7" text-anchor="middle" fill="#262626">0</text>
</g>
<g>
<text x="8" y="498.5" font-size="11.7" font-weight="bold" fill="#000" style="stroke:#000;stroke-width:0.55px">G</text>
<text x="161.55" y="496.8" font-size="9.4" text-anchor="middle" textLength="124.4" lengthAdjust="spacingAndGlyphs" fill="#262626">Int, High, &amp; Very High (P=0.0062)</text>
<path d="M80 503.5 V568.1 H246.2" fill="none" stroke="#000" stroke-width="1.45"/>
<path d="M76.6 564.5H80 M78 558.5H80 M76.6 553.5H80 M78 547.5H80 M76.6 541.5H80 M78 535.5H80 M76.6 529.5H80 M78 524.5H80 M76.6 518.5H80 M78 512.5H80 M76.6 506.5H80 M84.5 568.1V571.5 M115.5 568.1V571.5 M147.5 568.1V571.5 M178.5 568.1V571.5 M210.5 568.1V571.5 M242.5 568.1V571.5" fill="none" stroke="#000" stroke-width="1.1"/>
<text transform="translate(72.6 567.45) scale(1 1.13)" font-size="8.1" text-anchor="end" fill="#262626">0</text>
<text transform="translate(72.6 555.87) scale(1 1.13)" font-size="8.1" text-anchor="end" fill="#262626">20</text>
<text transform="translate(72.6 544.29) scale(1 1.13)" font-size="8.1" text-anchor="end" fill="#262626">40</text>
<text transform="translate(72.6 532.71) scale(1 1.13)" font-size="8.1" text-anchor="end" fill="#262626">60</text>
<text transform="translate(72.6 521.13) scale(1 1.13)" font-size="8.1" text-anchor="end" fill="#262626">80</text>
<text transform="translate(72.6 509.55) scale(1 1.13)" font-size="8.1" text-anchor="end" fill="#262626">100</text>
<text transform="translate(84 582.9) scale(1 1.13)" font-size="8.1" text-anchor="middle" fill="#262626">0</text>
<text transform="translate(115.65 582.9) scale(1 1.13)" font-size="8.1" text-anchor="middle" fill="#262626">50</text>
<text transform="translate(147.3 582.9) scale(1 1.13)" font-size="8.1" text-anchor="middle" fill="#262626">100</text>
<text transform="translate(178.95 582.9) scale(1 1.13)" font-size="8.1" text-anchor="middle" fill="#262626">150</text>
<text transform="translate(210.6 582.9) scale(1 1.13)" font-size="8.1" text-anchor="middle" fill="#262626">200</text>
<text transform="translate(242.25 582.9) scale(1 1.13)" font-size="8.1" text-anchor="middle" fill="#262626">250</text>
<text transform="translate(163.18 598.7) scale(0.64 1)" font-size="10.0" text-anchor="middle" letter-spacing="0.24" fill="#262626" style="stroke-width:0.45px">Time since diagnosis (months)</text>
<text transform="translate(53.2 535.96) rotate(-90) scale(0.64 1)" font-size="9.2" text-anchor="middle" letter-spacing="0.75" fill="#262626" style="stroke-width:0.45px">Survival probability (%)</text>
<path d="M84 506.7 H91.47 V508.21 H95.52 V511.68 H99 V513.65 H100.14 V517.99 H101.91 V520.31 H103.94 V522.91 H106.47 V524.88 H112.17 V526.97 H115.14 V529.51 H118.06 V530.73 H121.47 V533.62 H129.01 V539.3 H145.02 V542.83 H184.33 V550.41 H214.27 V557.3 H240.98" fill="none" stroke="#66a242" stroke-width="1.4"/>
<path d="M84 506.7 H89.19 V512.2 H98.43 V517.7 H99.57 V523.78 H101.91 V529.57 H102.36 V535.3 H109.95 V541.44 H110.59 V547.81 H113.43 V553.02 H122.11 V558.81 H129.58 V564.43 H129.58" fill="none" stroke="#8a1a3e" stroke-width="1.4"/>
<path d="M129.83 539.3V541.6 M139.39 539.3V541.6 M165.66 542.83V545.13 M239.72 557.3V559.6" stroke="#66a242" stroke-width="1"/>
<path d="M187.4 512.4H204" stroke="#66a242" stroke-width="1.4"/>
<path d="M187.4 524.2H204" stroke="#8a1a3e" stroke-width="1.4"/>
<text transform="translate(207.7 515.15) scale(1 1.17)" font-size="7.7" fill="#262626">TED</text>
<text transform="translate(207.7 526.95) scale(1 1.17)" font-size="7.7" fill="#262626">NoTED</text>
<text transform="translate(17 606.3) scale(1 1.15)" font-size="7.45" fill="#262626">Number at risk</text>
<text transform="translate(17 618.6) scale(1 1.11)" font-size="7.72" fill="#262626">Group: TED</text>
<text transform="translate(84 618.6) scale(1 1.13)" font-size="7.7" text-anchor="middle" fill="#262626">29</text>
<text transform="translate(115.65 618.6) scale(1 1.13)" font-size="7.7" text-anchor="middle" fill="#262626">15</text>
<text transform="translate(147.3 618.6) scale(1 1.13)" font-size="7.7" text-anchor="middle" fill="#262626">6</text>
<text transform="translate(178.95 618.6) scale(1 1.13)" font-size="7.7" text-anchor="middle" fill="#262626">3</text>
<text transform="translate(210.6 618.6) scale(1 1.13)" font-size="7.7" text-anchor="middle" fill="#262626">2</text>
<text transform="translate(242.25 618.6) scale(1 1.13)" font-size="7.7" text-anchor="middle" fill="#262626">0</text>
<text transform="translate(17 631.1) scale(1 1.11)" font-size="7.72" fill="#262626">Group: NoTED</text>
<text transform="translate(84 631.1) scale(1 1.13)" font-size="7.7" text-anchor="middle" fill="#262626">10</text>
<text transform="translate(115.65 631.1) scale(1 1.13)" font-size="7.7" text-anchor="middle" fill="#262626">2</text>
<text transform="translate(147.3 631.1) scale(1 1.13)" font-size="7.7" text-anchor="middle" fill="#262626">0</text>
<text transform="translate(178.95 631.1) scale(1 1.13)" font-size="7.7" text-anchor="middle" fill="#262626">0</text>
<text transform="translate(210.6 631.1) scale(1 1.13)" font-size="7.7" text-anchor="middle" fill="#262626">0</text>
<text transform="translate(242.25 631.1) scale(1 1.13)" font-size="7.7" text-anchor="middle" fill="#262626">0</text>
</g>
<g>
<text x="270.3" y="498.5" font-size="11.7" font-weight="bold" fill="#000" style="stroke:#000;stroke-width:0.55px">H</text>
<text x="425.4" y="496.7" font-size="9.4" text-anchor="middle" textLength="112.1" lengthAdjust="spacingAndGlyphs" fill="#262626">High &amp; Very High (P=0.0059)</text>
<path d="M342.2 503.5 V568.1 H507.9" fill="none" stroke="#000" stroke-width="1.45"/>
<path d="M338.8 564.5H342.2 M340.2 558.5H342.2 M338.8 552.5H342.2 M340.2 547.5H342.2 M338.8 541.5H342.2 M340.2 535.5H342.2 M338.8 529.5H342.2 M340.2 523.5H342.2 M338.8 518.5H342.2 M340.2 512.5H342.2 M338.8 506.5H342.2 M345.5 568.1V571.5 M377.5 568.1V571.5 M409.5 568.1V571.5 M440.5 568.1V571.5 M472.5 568.1V571.5 M504.5 568.1V571.5" fill="none" stroke="#000" stroke-width="1.1"/>
<text transform="translate(334.8 567.45) scale(1 1.13)" font-size="8.1" text-anchor="end" fill="#262626">0</text>
<text transform="translate(334.8 555.83) scale(1 1.13)" font-size="8.1" text-anchor="end" fill="#262626">20</text>
<text transform="translate(334.8 544.21) scale(1 1.13)" font-size="8.1" text-anchor="end" fill="#262626">40</text>
<text transform="translate(334.8 532.59) scale(1 1.13)" font-size="8.1" text-anchor="end" fill="#262626">60</text>
<text transform="translate(334.8 520.97) scale(1 1.13)" font-size="8.1" text-anchor="end" fill="#262626">80</text>
<text transform="translate(334.8 509.35) scale(1 1.13)" font-size="8.1" text-anchor="end" fill="#262626">100</text>
<text transform="translate(345.5 582.9) scale(1 1.13)" font-size="8.1" text-anchor="middle" fill="#262626">0</text>
<text transform="translate(377.3 582.9) scale(1 1.13)" font-size="8.1" text-anchor="middle" fill="#262626">50</text>
<text transform="translate(409.1 582.9) scale(1 1.13)" font-size="8.1" text-anchor="middle" fill="#262626">100</text>
<text transform="translate(440.9 582.9) scale(1 1.13)" font-size="8.1" text-anchor="middle" fill="#262626">150</text>
<text transform="translate(472.7 582.9) scale(1 1.13)" font-size="8.1" text-anchor="middle" fill="#262626">200</text>
<text transform="translate(504.5 582.9) scale(1 1.13)" font-size="8.1" text-anchor="middle" fill="#262626">250</text>
<text transform="translate(425.13 598.7) scale(0.64 1)" font-size="10.0" text-anchor="middle" letter-spacing="0.24" fill="#262626" style="stroke-width:0.45px">Time since diagnosis (months)</text>
<text transform="translate(314.8 535.96) rotate(-90) scale(0.64 1)" font-size="9.2" text-anchor="middle" letter-spacing="0.75" fill="#262626" style="stroke-width:0.45px">Survival probability (%)</text>
<path d="M345.5 506.5 H354.09 V510.22 H357.52 V514.05 H358.47 V517.89 H361.78 V521.02 H363.31 V528.98 H368.08 V534.79 H376.66 V538.57 H390.21 V544.79 H407.32 V554.32 H476.52 V564.43 H476.52" fill="none" stroke="#66a242" stroke-width="1.4"/>
<path d="M345.5 506.5 H351.67 V526.08 H360.89 V545.25 H361.78 V564.43 H361.78" fill="none" stroke="#8a1a3e" stroke-width="1.4"/>
<path d="M383.66 538.57V540.87 M402.74 544.79V547.09" stroke="#66a242" stroke-width="1"/>
<path d="M449.7 512.4H465.6" stroke="#66a242" stroke-width="1.4"/>
<path d="M449.7 524.2H465.6" stroke="#8a1a3e" stroke-width="1.4"/>
<text transform="translate(469.6 515.15) scale(1 1.17)" font-size="7.7" fill="#262626">TED</text>
<text transform="translate(469.6 526.95) scale(1 1.17)" font-size="7.7" fill="#262626">NoTED</text>
<text transform="translate(278.6 606.3) scale(1 1.15)" font-size="7.45" fill="#262626">Number at risk</text>
<text transform="translate(278.6 618.6) scale(1 1.11)" font-size="7.72" fill="#262626">Group: TED</text>
<text transform="translate(345.5 618.6) scale(1 1.13)" font-size="7.7" text-anchor="middle" fill="#262626">15</text>
<text transform="translate(377.3 618.6) scale(1 1.13)" font-size="7.7" text-anchor="middle" fill="#262626">5</text>
<text transform="translate(409.1 618.6) scale(1 1.13)" font-size="7.7" text-anchor="middle" fill="#262626">1</text>
<text transform="translate(440.9 618.6) scale(1 1.13)" font-size="7.7" text-anchor="middle" fill="#262626">1</text>
<text transform="translate(472.7 618.6) scale(1 1.13)" font-size="7.7" text-anchor="middle" fill="#262626">1</text>
<text transform="translate(504.5 618.6) scale(1 1.13)" font-size="7.7" text-anchor="middle" fill="#262626">0</text>
<text transform="translate(278.6 631.1) scale(1 1.11)" font-size="7.72" fill="#262626">Group: NoTED</text>
<text transform="translate(345.5 631.1) scale(1 1.13)" font-size="7.7" text-anchor="middle" fill="#262626">3</text>
<text transform="translate(377.3 631.1) scale(1 1.13)" font-size="7.7" text-anchor="middle" fill="#262626">0</text>
<text transform="translate(409.1 631.1) scale(1 1.13)" font-size="7.7" text-anchor="middle" fill="#262626">0</text>
<text transform="translate(440.9 631.1) scale(1 1.13)" font-size="7.7" text-anchor="middle" fill="#262626">0</text>
<text transform="translate(472.7 631.1) scale(1 1.13)" font-size="7.7" text-anchor="middle" fill="#262626">0</text>
<text transform="translate(504.5 631.1) scale(1 1.13)" font-size="7.7" text-anchor="middle" fill="#262626">0</text>
</g>
<rect x="0.75" y="0.75" width="518.5" height="640.5" fill="none" stroke="#000" stroke-width="1.5"/>
<rect x="1.75" y="1.75" width="516.5" height="638.5" fill="none" stroke="#999" stroke-width="0.6"/>
</svg>
</body></html>
